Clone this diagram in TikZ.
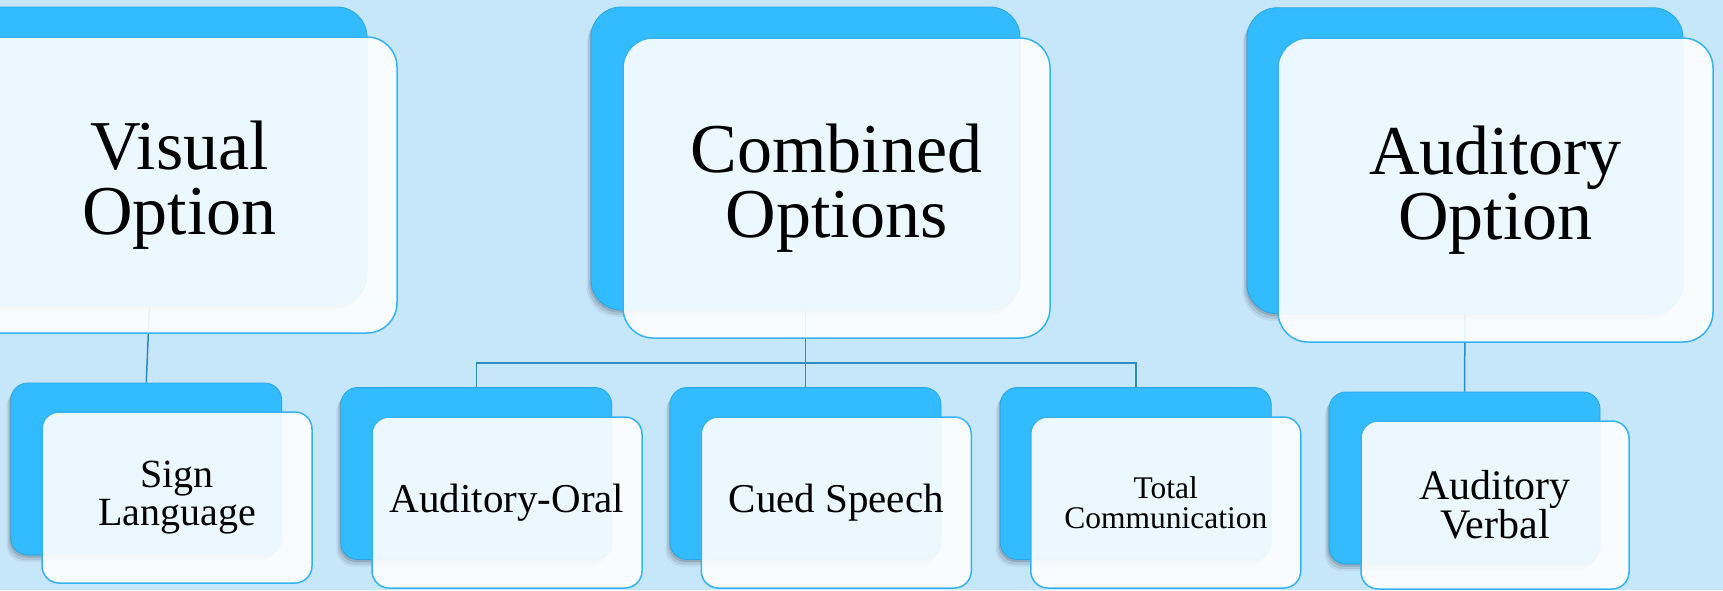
\documentclass[tikz,border=0pt]{standalone}
\usepackage{fontspec}
\setmainfont{Liberation Serif}
\definecolor{bgblue}{HTML}{C6E6FA}
\definecolor{cardblue}{HTML}{33BBFF}
\definecolor{cardedge}{HTML}{2DA5E0}
\definecolor{paneedge}{HTML}{35B3F0}
\definecolor{linkblue}{HTML}{2C8CC4}
\pgfdeclarelayer{bg}
\pgfdeclarelayer{links}
\pgfsetlayers{bg,links,main}
\tikzset{
  card/.style={rectangle, fill=cardblue, draw=cardedge, line width=0.8pt,
    preaction={fill=black, fill opacity=0.12, draw=none, transform canvas={xshift=-1.5pt, yshift=-2.5pt}},
    preaction={fill=black, fill opacity=0.09, draw=none, transform canvas={xshift=-3pt, yshift=-5pt}},
    preaction={fill=black, fill opacity=0.05, draw=none, transform canvas={xshift=-4.5pt, yshift=-7pt}}},
  pane/.style={rectangle, fill=white, fill opacity=0.9, text opacity=1,
    draw=paneedge, line width=1.5pt, inner sep=0pt, align=center},
  bigcard/.style={card, rounded corners=30pt},
  bigpane/.style={pane, rounded corners=30pt, font=\fontsize{70}{65}\selectfont},
  smallcard/.style={card, rounded corners=17pt, minimum width=271pt, minimum height=172pt},
  smallpane/.style={pane, rounded corners=17pt, minimum width=270pt, minimum height=171pt,
    font=\fontsize{40}{38}\selectfont},
  link/.style={draw=linkblue, line width=1.5pt}
}
\begin{document}
\begin{tikzpicture}[x=1pt, y=-1pt]
\useasboundingbox (0,0) rectangle (1723,590);
\begin{pgfonlayer}{bg}
  \fill[bgblue] (0,0) rectangle (1723,590);
\end{pgfonlayer}
\begin{scope}
\clip (0,0) rectangle (1723,590);

% top row
\node[bigcard, minimum width=435pt, minimum height=298pt] (vcard) at (149.5,156) {};
\node[bigpane, minimum width=435pt, minimum height=296pt] (vpane) at (179.5,185) {Visual\\Option};

\node[bigcard, minimum width=429pt, minimum height=303pt] (ccard) at (805.5,158.5) {};
\node[bigpane, minimum width=427pt, minimum height=300pt] (cpane) at (836.5,188) {Combined\\Options};

\node[bigcard, minimum width=436pt, minimum height=306pt] (acard) at (1465,160.75) {};
\node[bigpane, minimum width=435pt, minimum height=304pt] (apane) at (1495.5,190) {Auditory\\Option};

% bottom row
\node[smallcard] (slcard) at (146.25,469) {};
\node[smallpane, font=\fontsize{40}{38}\selectfont] (slpane) at (177,497.5) {Sign\\Language};

\node[smallcard] (aocard) at (476.25,473.5) {};
\node[smallpane, font=\fontsize{41}{38}\selectfont] (aopane) at (507,502.5) {Auditory-Oral};

\node[smallcard] (cscard) at (805.5,473.5) {};
\node[smallpane, font=\fontsize{41}{38}\selectfont] (cspane) at (836.25,502.5) {Cued Speech};

\node[smallcard] (tccard) at (1135.75,473.5) {};
\node[smallpane, font=\fontsize{31.5}{30}\selectfont] (tcpane) at (1165.75,502.5) {Total\\Communication};

\node[smallcard] (avcard) at (1464.5,478) {};
\node[smallpane, minimum width=268pt, minimum height=168pt, font=\fontsize{42}{38}\selectfont] (avpane) at (1495,505) {Auditory\\Verbal};
\end{scope}

% connectors
\coordinate (bus) at (0,363);
\begin{pgfonlayer}{links}
  \draw[link] (vcard.south) -- (slcard.north);
  \draw[link] (ccard.south) -- (cscard.north);
  \draw[link] (aocard.north) |- (ccard.south |- bus) -| (tccard.north);
  \draw[link] (acard.south) -- (avcard.north);
\end{pgfonlayer}
\end{tikzpicture}
\end{document}
